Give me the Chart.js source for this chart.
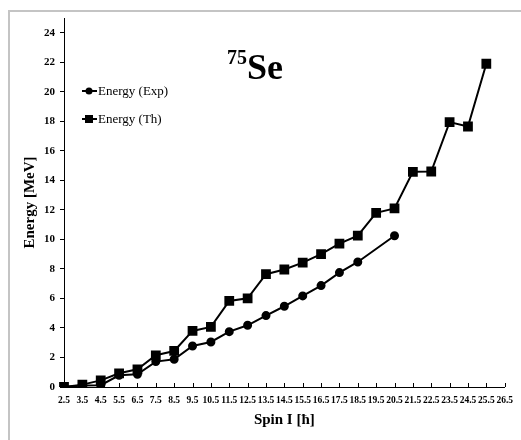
<!DOCTYPE html>
<html>
<head>
<meta charset="utf-8">
<script src="https://cdn.jsdelivr.net/npm/chart.js@4"></script>
<style>
  body { margin: 0; background: #fff; overflow: hidden; }
  canvas { display: block; }
</style>
</head>
<body>
<canvas id="energyChart" width="521" height="440"></canvas>
<script>
// spin values on the x axis
const spins = ['2.5','3.5','4.5','5.5','6.5','7.5','8.5','9.5','10.5','11.5','12.5','13.5',
  '14.5','15.5','16.5','17.5','18.5','19.5','20.5','21.5','22.5','23.5','24.5','25.5','26.5'];

const energyExp = [0, 0.1, 0.12, 0.79, 0.86, 1.72, 1.88, 2.78, 3.05, 3.75, 4.18, 4.84,
  5.47, 6.17, 6.87, 7.75, 8.47, null, 10.25, null, null, null, null, null, null];

const energyTh = [0, 0.16, 0.45, 0.93, 1.2, 2.15, 2.44, 3.8, 4.07, 5.83, 6.01, 7.64,
  7.96, 8.43, 9.0, 9.72, 10.25, 11.8, 12.1, 14.58, 14.6, 17.95, 17.65, 21.9, null];

const legendNames = ['Energy (Exp)', 'Energy (Th)'];

const ctx = document.getElementById('energyChart').getContext('2d');

// frame, legend, title and inside x ticks drawn by hand
const extras = {
  id: 'extras',
  beforeDraw(chart) {
    const c = chart.ctx;
    c.save();
    c.strokeStyle = '#c4c4c4';
    c.lineWidth = 2;
    c.beginPath();
    c.moveTo(9, 440);
    c.lineTo(9, 11);
    c.lineTo(521, 11);
    c.stroke();
    c.restore();
  },
  afterDraw(chart) {
    const c = chart.ctx;
    const xs = chart.scales.x;
    c.save();
    c.strokeStyle = '#000';
    c.lineWidth = 1;
    xs.ticks.forEach((t, i) => {
      const px = Math.round(xs.getPixelForTick(i)) + 0.5;
      c.beginPath();
      c.moveTo(px, xs.top);
      c.lineTo(px, xs.top - 4);
      c.stroke();
    });

    // legend
    const rows = [91, 119];
    chart.data.datasets.forEach((ds, i) => {
      const y = rows[i];
      c.lineWidth = 2;
      c.beginPath();
      c.moveTo(82, y);
      c.lineTo(97, y);
      c.stroke();
      c.fillStyle = '#000';
      if (ds.pointStyle === 'rect') {
        c.fillRect(85, y - 4, 8, 8);
      } else {
        c.beginPath();
        c.arc(89, y, 3.5, 0, Math.PI * 2);
        c.fill();
      }
      c.font = '13px "Liberation Serif"';
      c.textBaseline = 'middle';
      c.textAlign = 'left';
      c.fillText(legendNames[i], 98, y + 1);
    });

    // title 75Se
    c.fillStyle = '#000';
    c.textBaseline = 'alphabetic';
    c.font = 'bold 20px "Liberation Serif"';
    c.fillText('75', 227, 64);
    c.font = 'bold 36px "Liberation Serif"';
    c.fillText('Se', 247, 79);
    c.restore();
  }
};

new Chart(ctx, {
  type: 'line',
  data: {
    labels: spins,
    datasets: [{
      label: legendNames[0],
      data: energyExp,
      borderColor: '#000',
      backgroundColor: '#000',
      borderWidth: 2,
      pointStyle: 'circle',
      pointRadius: 3.5,
      spanGaps: true,
      tension: 0
    }, {
      label: legendNames[1],
      data: energyTh,
      borderColor: '#000',
      backgroundColor: '#000',
      borderWidth: 2,
      pointStyle: 'rect',
      pointRadius: 5.5,
      spanGaps: true,
      tension: 0
    }]
  },
  options: {
    responsive: false,
    animation: false,
    layout: { padding: { left: 0, top: 18, right: 14, bottom: 0 } },
    plugins: {
      legend: { display: false },
      tooltip: { enabled: false }
    },
    scales: {
      x: {
        offset: false,
        grid: { display: true, drawOnChartArea: false, drawTicks: false, tickLength: 0 },
        border: { color: '#000', width: 1 },
        ticks: {
          color: '#000',
          font: { family: 'Liberation Serif', size: 9.5, weight: 'bold' },
          maxRotation: 0,
          autoSkip: false,
          padding: 8
        },
        title: {
          display: true,
          text: 'Spin I [ħ]',
          color: '#000',
          font: { family: 'Liberation Serif', size: 15, weight: 'bold' },
          padding: { top: 0, bottom: 11 }
        },
        afterFit(s) { s.height = 53; }
      },
      y: {
        min: 0,
        max: 25,
        grid: { drawOnChartArea: false, drawTicks: true, tickLength: 4, color: '#000' },
        border: { color: '#000', width: 1 },
        ticks: {
          stepSize: 2,
          color: '#000',
          font: { family: 'Liberation Serif', size: 11, weight: 'bold' },
          padding: 5
        },
        afterBuildTicks(s) { s.ticks = s.ticks.filter(t => t.value % 2 === 0); },
        title: {
          display: true,
          text: 'Energy [MeV]',
          color: '#000',
          font: { family: 'Liberation Serif', size: 15, weight: 'bold' },
          padding: { top: 21, bottom: 0 }
        },
        afterFit(s) { s.width = 64; }
      }
    }
  },
  plugins: [extras]
});
</script>
</body>
</html>
